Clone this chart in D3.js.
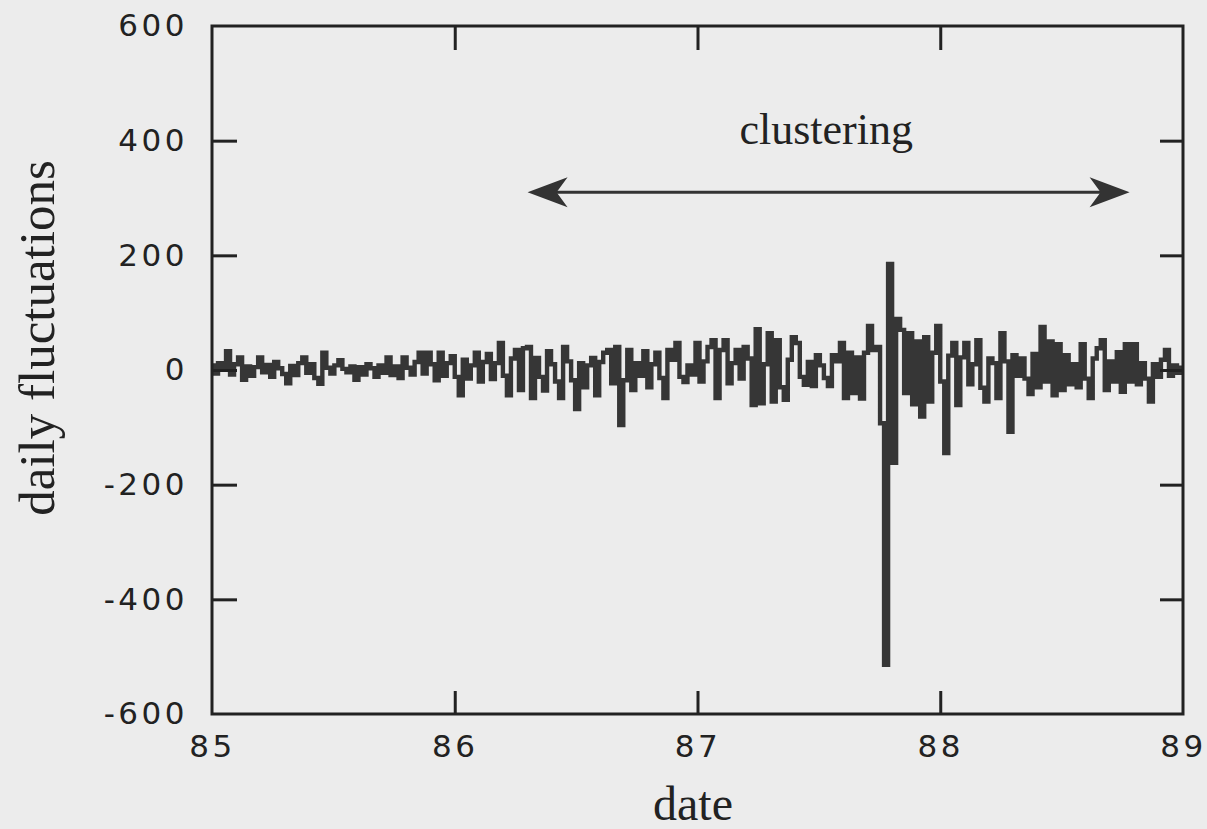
<!DOCTYPE html>
<html>
<head>
<meta charset="utf-8">
<script src="https://cdn.jsdelivr.net/npm/d3@7"></script>
<style>
  html, body { margin: 0; padding: 0; background: #ececec; }
  svg { display: block; }
  .tick text { font-family: "DejaVu Sans", sans-serif; font-size: 31px; letter-spacing: 3.5px; fill: #222; }
  .tick line { stroke: #222; stroke-width: 3px; }
  .domain { display: none; }
  .title { font-family: "Liberation Serif", "Times New Roman", serif; fill: #222; }
</style>
</head>
<body>
<svg id="chart" width="1207" height="829"></svg>
<script>
// x axis years and y axis ticks
const years = [85, 86, 87, 88, 89];
const yTicks = [-600, -400, -200, 0, 200, 400, 600];

// daily fluctuations, evenly spaced from 85 to 89
const fluctuations = [
  8, -6, 12, 4, 33, -8, 10, 22, -17, 6,
  -10, 5, 22, -4, 9, -12, 14, 3, -7, -23,
  7, -9, 12, 22, -5, 10, -14, -24, 30, 4,
  -6, 8, 17, 2, -4, 6, -17, 5, -8, 10,
  3, -12, 8, -5, 22, -9, 6, -14, 22, 4,
  -8, 14, 30, -6, 30, 10, -18, 30, -10, 12,
  24, -12, -44, 18, -15, 8, 30, -20, 14, 28,
  -16, 12, 47, -10, -44, 20, 35, -35, 38, 40,
  -49, 21, -12, -36, 33, 10, -20, -49, 40, 15,
  -18, -68, 12, -30, 8, 21, -44, 14, 30, 35,
  -23, 40, -96, -18, 35, -35, 12, -10, 33, -30,
  10, 30, -14, -49, 35, 18, 47, -12, -21, 8,
  -8, 47, -20, 15, 40, 52, -49, 35, 52, -23,
  12, 35, -15, 40, 20, -61, 71, -58, 10, 64,
  -55, 52, -30, -52, 18, 57, 47, -12, -26, 14,
  -28, 26, 8, -14, -28, 26, 15, 47, -49, 30,
  -40, 22, -50, 30, 77, 35, 40, -93, -514, 185,
  -162, 89, 70, -40, 64, -60, 50, -81, 57, -55,
  30, 77, -20, -145, 25, 47, -61, 22, 47, -25,
  10, 52, -31, -55, 20, 12, -49, 64, 15, -108,
  26, -10, 20, -15, -42, 28, -30, 75, -20, 50,
  -44, 45, -35, 26, -25, 10, -30, 45, -15, -49,
  20, 38, 52, -35, 15, -20, 31, -38, 45, -20,
  45, -25, 12, -15, -55, 10, -12, 18, 35, -10,
  8, -5, 4
];

// "clustering" annotation: arrow span in years, level and label position
const clusterSpan = [86.3, 88.78];
const clusterLevel = 310;
const clusterLabel = { x: 87.53, y: 394, text: 'clustering' };

const margin = { left: 212, right: 24, top: 26, bottom: 115 };

const svg = d3.select('#chart');
const width = +svg.attr('width');
const height = +svg.attr('height');
const innerWidth = width - margin.left - margin.right;
const innerHeight = height - margin.top - margin.bottom;

const xScale = d3.scaleLinear()
  .domain([years[0], years[years.length - 1]])
  .range([0, innerWidth]);
const yScale = d3.scaleLinear()
  .domain([yTicks[0], yTicks[yTicks.length - 1]])
  .range([innerHeight, 0]);

const g = svg.append('g')
  .attr('transform', `translate(${margin.left},${margin.top})`);

const step = (years[years.length - 1] - years[0]) / (fluctuations.length - 1);
const data = fluctuations.map((v, i) => ({ x: years[0] + i * step, y: v }));

const line = d3.line()
  .x(d => xScale(d.x))
  .y(d => yScale(d.y))
  .curve(d3.curveStep);

g.append('path')
  .datum(data)
  .attr('fill', 'none')
  .attr('stroke', '#363636')
  .attr('stroke-width', 4.4)
  .attr('stroke-linejoin', 'miter')
  .attr('d', line);

// axes: inward ticks on all four sides, labels only left and bottom
const inner = years.slice(1, -1);
const innerY = yTicks.slice(1, -1);
const plain = d => String(d);

g.append('g')
  .attr('transform', `translate(0,${innerHeight})`)
  .call(d3.axisBottom(xScale).tickValues(years).tickFormat(plain)
    .tickSizeInner(-23).tickSizeOuter(0).tickPadding(21))
  .call(a => a.selectAll('.tick line').filter(d => !inner.includes(d)).remove());

g.append('g')
  .call(d3.axisTop(xScale).tickValues(inner).tickSizeInner(-24).tickSizeOuter(0).tickFormat(''));

g.append('g')
  .call(d3.axisLeft(yScale).tickValues(yTicks).tickFormat(plain)
    .tickSizeInner(-25).tickSizeOuter(0).tickPadding(24))
  .call(a => a.selectAll('.tick line').filter(d => !innerY.includes(d)).remove());

g.append('g')
  .attr('transform', `translate(${innerWidth},0)`)
  .call(d3.axisRight(yScale).tickValues(innerY).tickSizeInner(-23).tickSizeOuter(0).tickFormat(''));

g.append('rect')
  .attr('width', innerWidth)
  .attr('height', innerHeight)
  .attr('fill', 'none')
  .attr('stroke', '#222')
  .attr('stroke-width', 3);

// arrow
const ax0 = xScale(clusterSpan[0]);
const ax1 = xScale(clusterSpan[1]);
const ay = yScale(clusterLevel);
g.append('line')
  .attr('x1', ax0 + 20).attr('x2', ax1 - 20)
  .attr('y1', ay).attr('y2', ay)
  .attr('stroke', '#333')
  .attr('stroke-width', 3);
const head = 'M0,0 L40,-15 L29,0 L40,15 Z';
g.append('path')
  .attr('d', head)
  .attr('transform', `translate(${ax0},${ay})`)
  .attr('fill', '#333');
g.append('path')
  .attr('d', head)
  .attr('transform', `translate(${ax1},${ay}) scale(-1,1)`)
  .attr('fill', '#333');

g.append('text')
  .attr('class', 'title')
  .attr('x', xScale(clusterLabel.x))
  .attr('y', yScale(clusterLabel.y))
  .attr('text-anchor', 'middle')
  .style('font-size', '44px')
  .text(clusterLabel.text);

// axis titles
svg.append('text')
  .attr('class', 'title')
  .attr('transform', `translate(54,338) rotate(-90)`)
  .attr('text-anchor', 'middle')
  .style('font-size', '51px')
  .text('daily fluctuations');

svg.append('text')
  .attr('class', 'title')
  .attr('x', 693)
  .attr('y', 820)
  .attr('text-anchor', 'middle')
  .style('font-size', '48px')
  .text('date');
</script>
</body>
</html>
